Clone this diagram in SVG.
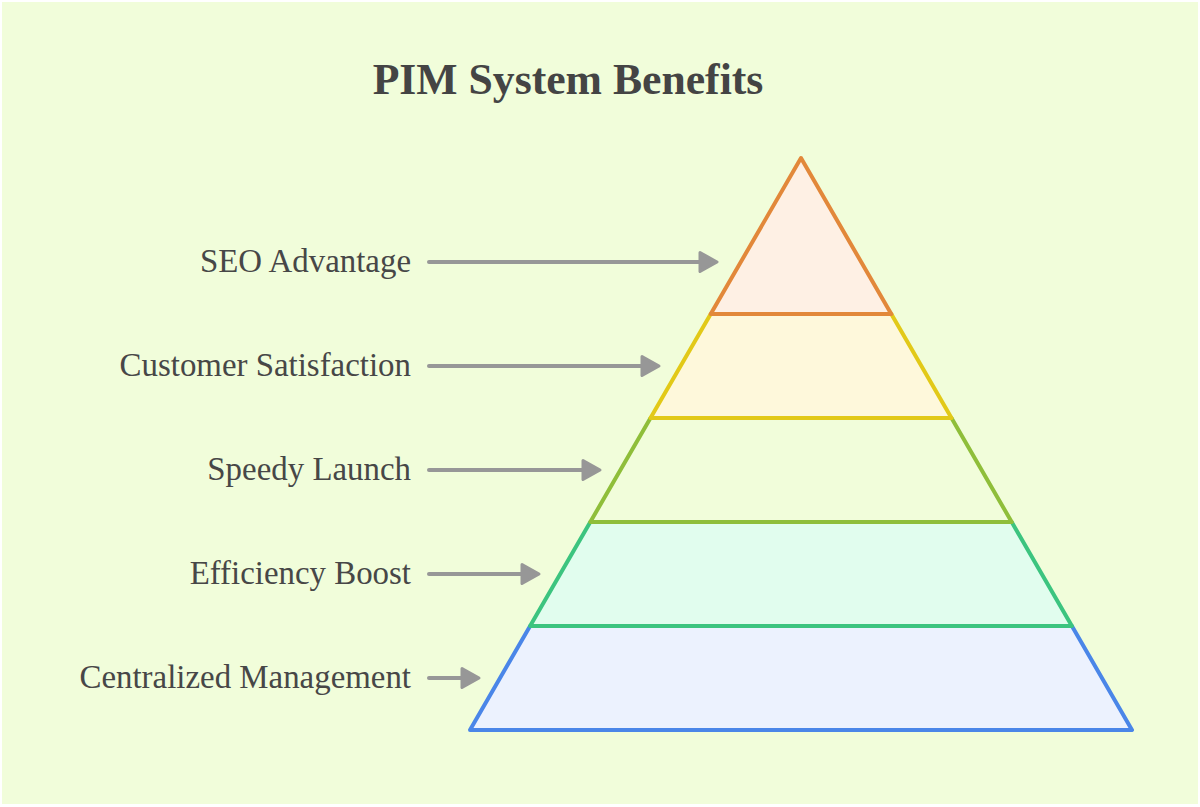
<svg xmlns="http://www.w3.org/2000/svg" width="1200" height="807" viewBox="0 0 1200 807">
<style>
.lbl{font-family:"Liberation Serif","Times New Roman",serif;font-size:32.9px;fill:#474747;text-anchor:end}
.title{font-family:"Liberation Serif","Times New Roman",serif;font-size:43.7px;font-weight:bold;fill:#444444;text-anchor:middle}
.layer{stroke-width:4;stroke-linejoin:round}
.conn line{stroke:#979797;stroke-width:4;stroke-linecap:round}
.conn path{fill:#979797;stroke:#979797;stroke-width:3;stroke-linejoin:round}
</style>
<rect x="0" y="0" width="1200" height="807" fill="#ffffff"/>
<rect x="2" y="2" width="1196" height="802" fill="#F1FDDA"/>
<text class="title" x="568" y="94">PIM System Benefits</text>
<g id="layer-centralized">
<polygon class="layer" points="530.1,626 1071.9,626 1132,730 470,730" fill="#ECF2FE" stroke="#4A86E8"/>
</g>
<g id="layer-efficiency">
<polygon class="layer" points="590.3,522 1011.7,522 1071.9,626 530.1,626" fill="#E1FDEE" stroke="#3CC47F"/>
</g>
<g id="layer-speedy">
<polygon class="layer" points="650.5,418 951.5,418 1011.7,522 590.3,522" fill="#F1FDDA" stroke="#8FBE3A"/>
</g>
<g id="layer-customer">
<polygon class="layer" points="710.7,314 891.3,314 951.5,418 650.5,418" fill="#FEF8DB" stroke="#E2C918"/>
</g>
<g id="layer-seo">
<polygon class="layer" points="801,158 891.3,314 710.7,314" fill="#FEF0E4" stroke="#E2883A"/>
</g>
<g id="label-seo"><text class="lbl" x="411" y="272">SEO Advantage</text></g>
<g id="label-customer"><text class="lbl" x="411" y="376">Customer Satisfaction</text></g>
<g id="label-speedy"><text class="lbl" x="411" y="480">Speedy Launch</text></g>
<g id="label-efficiency"><text class="lbl" x="411" y="584">Efficiency Boost</text></g>
<g id="label-centralized"><text class="lbl" x="411" y="688">Centralized Management</text></g>
<g id="connectors" class="conn">
<line x1="429" y1="262" x2="702" y2="262"/><path d="M700,252.5 L717,262 L700,271.5 Z"/>
<line x1="429" y1="366" x2="644" y2="366"/><path d="M642,356.5 L659,366 L642,375.5 Z"/>
<line x1="429" y1="470" x2="585" y2="470"/><path d="M583,460.5 L600,470 L583,479.5 Z"/>
<line x1="429" y1="574" x2="524" y2="574"/><path d="M522,564.5 L539,574 L522,583.5 Z"/>
<line x1="429" y1="678" x2="464" y2="678"/><path d="M462,668.5 L479,678 L462,687.5 Z"/>
</g>
</svg>
